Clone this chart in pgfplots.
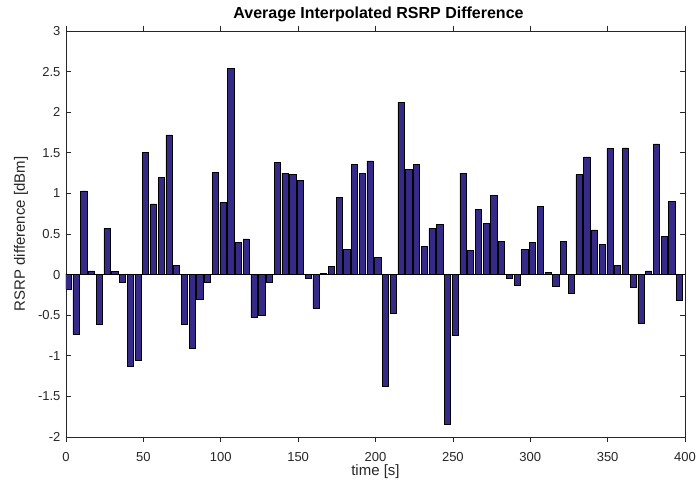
\documentclass[border=0pt]{standalone}
\usepackage{pgfplots}
\pgfplotsset{compat=1.18}
\usepackage{fontspec}
\setmainfont{Liberation Sans}
\definecolor{barblue}{RGB}{53,42,135}
\definecolor{axgray}{RGB}{38,38,38}
\begin{document}
\begin{tikzpicture}
\useasboundingbox (-66pt,-47pt) rectangle (630pt,437pt);
\begin{axis}[
  at={(0,0)}, anchor=south west,
  scale only axis, width=619pt, height=406pt,
  xmin=0, xmax=400, ymin=-2, ymax=3,
  xtick={0,50,...,400},
  ytick={-2,-1.5,-1,-0.5,0,0.5,1,1.5,2,2.5,3},
  tick align=inside, major tick length=5pt,
  tick style={axgray, line width=0.6pt},
  axis line style={axgray, line width=0.6pt},
  /pgf/number format/assume math mode=true,
  /pgf/number format/fixed,
  ticklabel style={font=\fontsize{13}{15}\selectfont, text=axgray},
  xticklabel style={anchor=base, yshift=-20pt},
  yticklabel style={xshift=-2pt},
  title={\textbf{Average Interpolated RSRP Difference}},
  title style={font=\fontsize{16}{18}\selectfont, at={(axis description cs:0.5,1)}, anchor=base, yshift=6pt, xshift=3pt},
  xlabel={time [s]},
  ylabel={RSRP difference [dBm]},
  label style={font=\fontsize{15}{17}\selectfont, text=axgray},
  xlabel style={at={(axis description cs:0.5,0)}, anchor=base, yshift=-39pt},
  ylabel style={at={(axis description cs:0,0.5)}, anchor=base, rotate=0, yshift=41pt},
  ybar, bar width=4,
]
\addplot[ybar, bar width=4, fill=barblue, draw=black, line width=0.6pt] coordinates {
(1.5,-0.18) (6.5,-0.74) (11.5,1.03) (16.5,0.045) (21.5,-0.61)
(26.5,0.57) (31.5,0.04) (36.5,-0.10) (41.5,-1.13) (46.5,-1.05)
(51.5,1.50) (56.5,0.87) (61.5,1.20) (66.5,1.72) (71.5,0.11)
(76.5,-0.61) (81.5,-0.91) (86.5,-0.30) (91.5,-0.10) (96.5,1.26)
(101.5,0.89) (106.5,2.54) (111.5,0.40) (116.5,0.44) (121.5,-0.53)
(126.5,-0.50) (131.5,-0.09) (136.5,1.38) (141.5,1.25) (146.5,1.23)
(151.5,1.16) (156.5,-0.045) (161.5,-0.42) (166.5,0.01) (171.5,0.10)
(176.5,0.95) (181.5,0.31) (186.5,1.36) (191.5,1.25) (196.5,1.40)
(201.5,0.21) (206.5,-1.37) (211.5,-0.475) (216.5,2.12) (221.5,1.30)
(226.5,1.36) (231.5,0.35) (236.5,0.57) (241.5,0.62) (246.5,-1.84)
(251.5,-0.75) (256.5,1.25) (261.5,0.30) (266.5,0.80) (271.5,0.63)
(276.5,0.98) (281.5,0.41) (286.5,-0.05) (291.5,-0.13) (296.5,0.31)
(301.5,0.40) (306.5,0.84) (311.5,0.03) (316.5,-0.14) (321.5,0.41)
(326.5,-0.23) (331.5,1.23) (336.5,1.45) (341.5,0.55) (346.5,0.37)
(351.5,1.55) (356.5,0.115) (361.5,1.56) (366.5,-0.16) (371.5,-0.60)
(376.5,0.045) (381.5,1.61) (386.5,0.47) (391.5,0.90) (396.5,-0.315)
};
\addplot[black, line width=0.6pt, sharp plot] coordinates {(0,0) (400,0)};
\end{axis}
\end{tikzpicture}
\end{document}
